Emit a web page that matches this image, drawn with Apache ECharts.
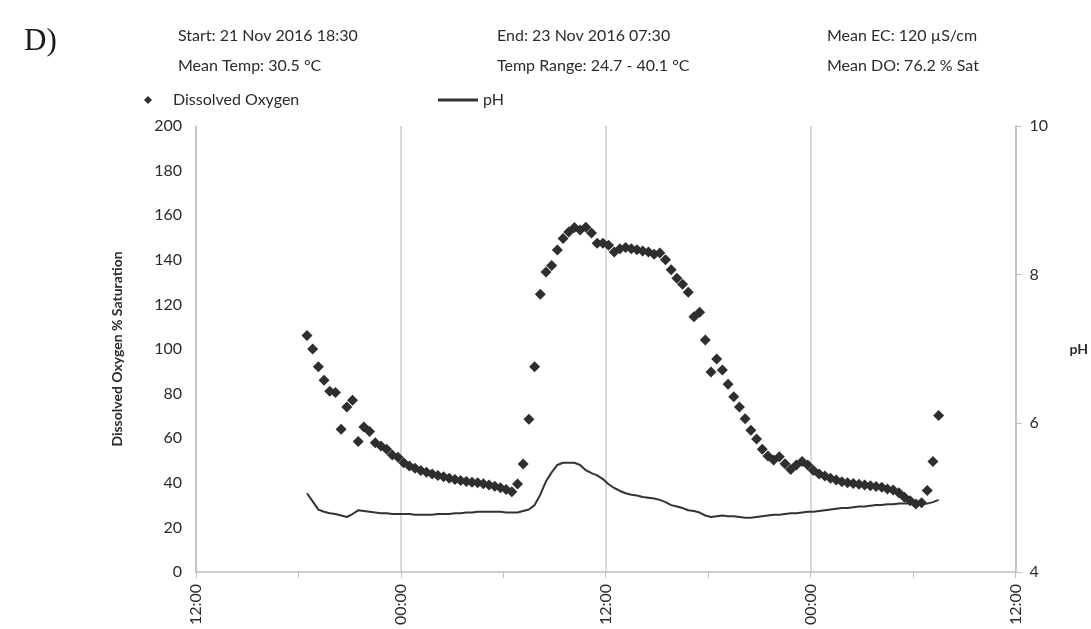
<!DOCTYPE html>
<html>
<head>
<meta charset="utf-8">
<script src="https://cdn.jsdelivr.net/npm/echarts@6/dist/echarts.min.js"></script>
<style>
  html, body { margin: 0; padding: 0; background: #fff; }
  #chart { width: 1091px; height: 629px; }
</style>
</head>
<body>
<div id="chart"></div>
<script>
// logger readings, one every 20 minutes from 21 Nov 2016 18:30 to 23 Nov 2016 07:30
var startLabel = '21 Nov 2016 18:30';
var startHour = 6.5;          // hours after the axis origin (21 Nov 12:00)
var stepHours = 1 / 3;        // 20 minute logging interval

var doValues = [
    106, 100, 92, 86, 81, 80.5, 64, 74, 77, 58.5,
    65, 63, 58, 56.5, 55, 52.5, 51.5, 49, 47.5, 46.5,
    45.5, 44.7, 44, 43.3, 42.7, 42, 41.5, 41, 40.6, 40.2,
    40, 39.6, 39, 38.5, 37.8, 37, 36, 39.5, 48.4, 68.5,
    92, 124.5, 134.5, 137.5, 144.4, 149.5, 152.5, 154.5, 153.4, 154.6,
    152, 147.4, 147.4, 146.5, 143.5, 145, 145.5, 145, 144.5, 144,
    143.5, 142.5, 143, 140, 135.5, 131.7, 129, 125.5, 114.5, 116.5,
    104, 89.7, 95.5, 90.6, 84.2, 78.6, 74, 68.7, 63.6, 59.6,
    55, 52, 50.2, 51.7, 48.5, 46, 48, 49.5, 48, 45.5,
    44, 43, 42, 41.3, 40.5, 40, 39.7, 39.3, 39, 38.7,
    38.3, 38, 37.2, 36.8, 35.5, 33.5, 32, 30.5, 31, 36.5,
    49.5, 70.2
];

var phValues = [
    5.06, 4.95, 4.84, 4.81, 4.79, 4.78, 4.76, 4.74, 4.78, 4.83,
    4.82, 4.81, 4.80, 4.79, 4.79, 4.78, 4.78, 4.78, 4.78, 4.77,
    4.77, 4.77, 4.77, 4.78, 4.78, 4.78, 4.79, 4.79, 4.80, 4.80,
    4.81, 4.81, 4.81, 4.81, 4.81, 4.80, 4.80, 4.80, 4.82, 4.84,
    4.90, 5.04, 5.22, 5.34, 5.44, 5.47, 5.47, 5.47, 5.44, 5.37,
    5.33, 5.30, 5.25, 5.18, 5.13, 5.09, 5.06, 5.04, 5.03, 5.01,
    5.00, 4.99, 4.97, 4.94, 4.90, 4.88, 4.86, 4.83, 4.82, 4.80,
    4.76, 4.74, 4.75, 4.76, 4.75, 4.75, 4.74, 4.73, 4.73, 4.74,
    4.75, 4.76, 4.77, 4.77, 4.78, 4.79, 4.79, 4.80, 4.81, 4.81,
    4.82, 4.83, 4.84, 4.85, 4.86, 4.86, 4.87, 4.88, 4.88, 4.89,
    4.90, 4.90, 4.91, 4.91, 4.92, 4.92, 4.92, 4.91, 4.91, 4.92,
    4.94, 4.97
];

var summary = [
    ['Start: ' + startLabel, 'End: 23 Nov 2016 07:30', 'Mean EC: 120 µS/cm'],
    ['Mean Temp: 30.5 °C', 'Temp Range: 24.7 - 40.1 °C', 'Mean DO: 76.2 % Sat']
];

var timeLabels = ['12:00', '00:00'];   // axis origin is noon, so labels alternate every 12 h

var FONT = 'Lato';
var INK = '#2b2b2b';

function pairs(values) {
    var out = [];
    for (var i = 0; i < values.length; i++) {
        out.push([startHour + i * stepHours, values[i]]);
    }
    return out;
}

var titles = [{
    text: 'D)',
    left: 19, top: 21,
    textStyle: { fontFamily: 'Liberation Serif', fontSize: 31, fontWeight: 'normal', color: '#1a1a1a' }
}];
var colX = [173, 492, 822];
for (var r = 0; r < summary.length; r++) {
    for (var c = 0; c < summary[r].length; c++) {
        titles.push({
            text: summary[r][c],
            left: colX[c], top: 23 + r * 30,
            textStyle: { fontFamily: FONT, fontSize: 16, fontWeight: 'normal', color: INK }
        });
    }
}

var chart = echarts.init(document.getElementById('chart'));

var option = {
    backgroundColor: '#ffffff',
    animation: false,
    title: titles,
    legend: [
        {
            data: ['Dissolved Oxygen'],
            left: 139, top: 87,
            icon: 'diamond',
            itemWidth: 8, itemHeight: 8,
            textStyle: { fontFamily: FONT, fontSize: 16, color: INK, padding: [0, 0, 0, 16] }
        },
        {
            data: ['pH'],
            left: 433, top: 87,
            icon: 'rect',
            itemWidth: 40, itemHeight: 3,
            textStyle: { fontFamily: FONT, fontSize: 16, color: INK }
        }
    ],
    grid: { left: 196, right: 75, top: 126, bottom: 57 },
    xAxis: {
        type: 'value',
        min: 0, max: 48, interval: 12,
        axisLine: { lineStyle: { color: '#bfbfbf', width: 1.5 } },
        axisTick: { show: true, length: 6, lineStyle: { color: '#bfbfbf' } },
        minorTick: { show: true, splitNumber: 2, length: 6, lineStyle: { color: '#bfbfbf' } },
        axisLabel: {
            rotate: 90, margin: 12,
            fontFamily: FONT, fontSize: 16, color: INK,
            formatter: function (v) { return timeLabels[(v / 12) % 2]; }
        },
        splitLine: { show: true, lineStyle: { color: '#d9d9d9', width: 2 } }
    },
    yAxis: [
        {
            type: 'value',
            min: 0, max: 200, interval: 20,
            name: 'Dissolved Oxygen % Saturation',
            nameLocation: 'middle', nameGap: 72,
            nameTextStyle: { fontFamily: FONT, fontSize: 14, fontWeight: 'bold', color: INK },
            axisLine: { show: true, lineStyle: { color: '#bfbfbf', width: 1.5 } },
            axisTick: { show: false },
            axisLabel: { margin: 14, fontFamily: FONT, fontSize: 16, color: INK },
            splitLine: { show: false }
        },
        {
            type: 'value',
            position: 'right',
            min: 4, max: 10, interval: 2,
            name: 'pH',
            nameLocation: 'middle', nameRotate: 0, nameGap: 54,
            nameTextStyle: { fontFamily: FONT, fontSize: 14, fontWeight: 'bold', color: INK },
            axisLine: { show: true, lineStyle: { color: '#bfbfbf', width: 1.5 } },
            axisTick: { show: true, inside: false, length: 6, lineStyle: { color: '#bfbfbf' } },
            axisLabel: { margin: 14, fontFamily: FONT, fontSize: 16, color: INK },
            splitLine: { show: false }
        }
    ],
    series: [
        {
            name: 'pH',
            type: 'line',
            yAxisIndex: 1,
            data: pairs(phValues),
            showSymbol: false,
            symbol: 'none',
            lineStyle: { color: '#333333', width: 2 },
            itemStyle: { color: '#333333' },
            z: 2
        },
        {
            name: 'Dissolved Oxygen',
            type: 'scatter',
            yAxisIndex: 0,
            data: pairs(doValues),
            symbol: 'diamond',
            symbolSize: 11,
            itemStyle: { color: '#2e2e2e', opacity: 1 },
            z: 3
        }
    ]
};

chart.setOption(option);
</script>
</body>
</html>
